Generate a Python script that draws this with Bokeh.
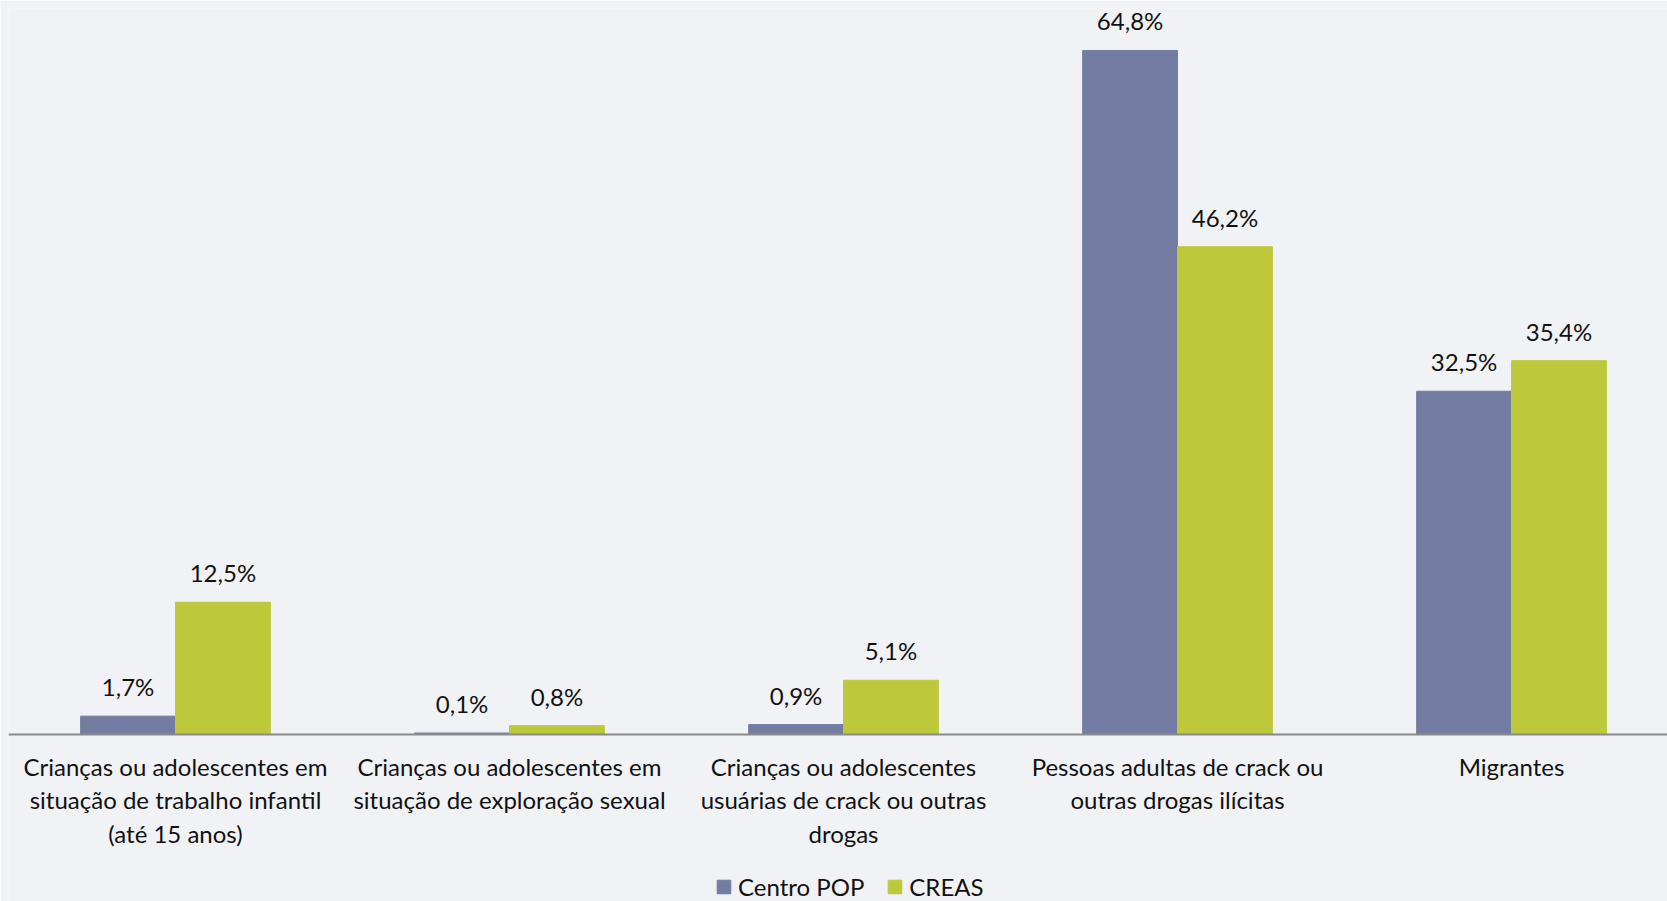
from bokeh.plotting import figure
from bokeh.models import Range1d, FixedTicker, ColumnDataSource, Legend, LegendItem, LabelSet
from bokeh.embed import file_html
from bokeh.resources import INLINE
from bokeh.core.properties import value

categories = [
    "Crianças ou adolescentes em\nsituação de trabalho infantil\n(até 15 anos)",
    "Crianças ou adolescentes em\nsituação de exploração sexual",
    "Crianças ou adolescentes\nusuárias de crack ou outras\ndrogas",
    "Pessoas adultas de crack ou\noutras drogas ilícitas",
    "Migrantes",
]
centro_pop = [1.7, 0.1, 0.9, 64.8, 32.5]
creas = [12.5, 0.8, 5.1, 46.2, 35.4]
series_names = ["Centro POP", "CREAS"]
colors = ["#737ca1", "#bdc93a"]

FONT = "Lato"
BG = "#f1f2f6"
bw = 0.284
idx = list(range(len(categories)))

def fmt(v):
    return f"{v:.1f}".replace(".", ",") + "%"

p = figure(frame_width=1659, frame_height=893, output_backend="svg", toolbar_location=None,
           x_range=Range1d(-0.5, 4.467), y_range=Range1d(-15.87, 68.78),
           min_border_top=8, min_border_left=8, min_border_right=0, min_border_bottom=0)
p.background_fill_color = BG
p.border_fill_color = BG
p.outline_line_color = None
p.xgrid.visible = False
p.ygrid.visible = False
p.yaxis.visible = False

renderers = []
for k, (vals, off) in enumerate([(centro_pop, -bw / 2), (creas, bw / 2)]):
    src = ColumnDataSource(dict(x=[i + off for i in idx], top=vals, lab=[fmt(v) for v in vals]))
    r = p.vbar(x="x", top="top", width=bw, source=src, fill_color=colors[k], line_color=colors[k])
    renderers.append(r)
    p.add_layout(LabelSet(x="x", y="top", text="lab", source=src, text_align="center",
                          text_baseline="bottom", y_offset=15, text_font=value(FONT),
                          text_font_size="24px", text_color="#111111"))

ax = p.xaxis[0]
ax.fixed_location = 0
ax.ticker = FixedTicker(ticks=idx)
ax.major_label_overrides = {i: c for i, c in enumerate(categories)}
ax.major_tick_line_color = None
ax.minor_tick_line_color = None
ax.axis_line_color = "#8a8a8a"
ax.axis_line_width = 2
ax.major_label_text_font = FONT
ax.major_label_text_font_size = "24px"
ax.major_label_text_color = "#111111"
ax.major_label_standoff = 12
ax.major_label_text_line_height = 1.15

legend = Legend(items=[LegendItem(label=series_names[i], renderers=[renderers[i]]) for i in range(2)],
                orientation="horizontal", location=(707, 0),
                label_text_font=FONT, label_text_font_size="24px", label_text_color="#111111",
                label_height=26, glyph_width=17, glyph_height=17, spacing=22, label_standoff=6,
                background_fill_alpha=0, border_line_color=None, padding=0, margin=0)
p.add_layout(legend, "center")

open("out.html", "w").write(file_html(p, INLINE))
